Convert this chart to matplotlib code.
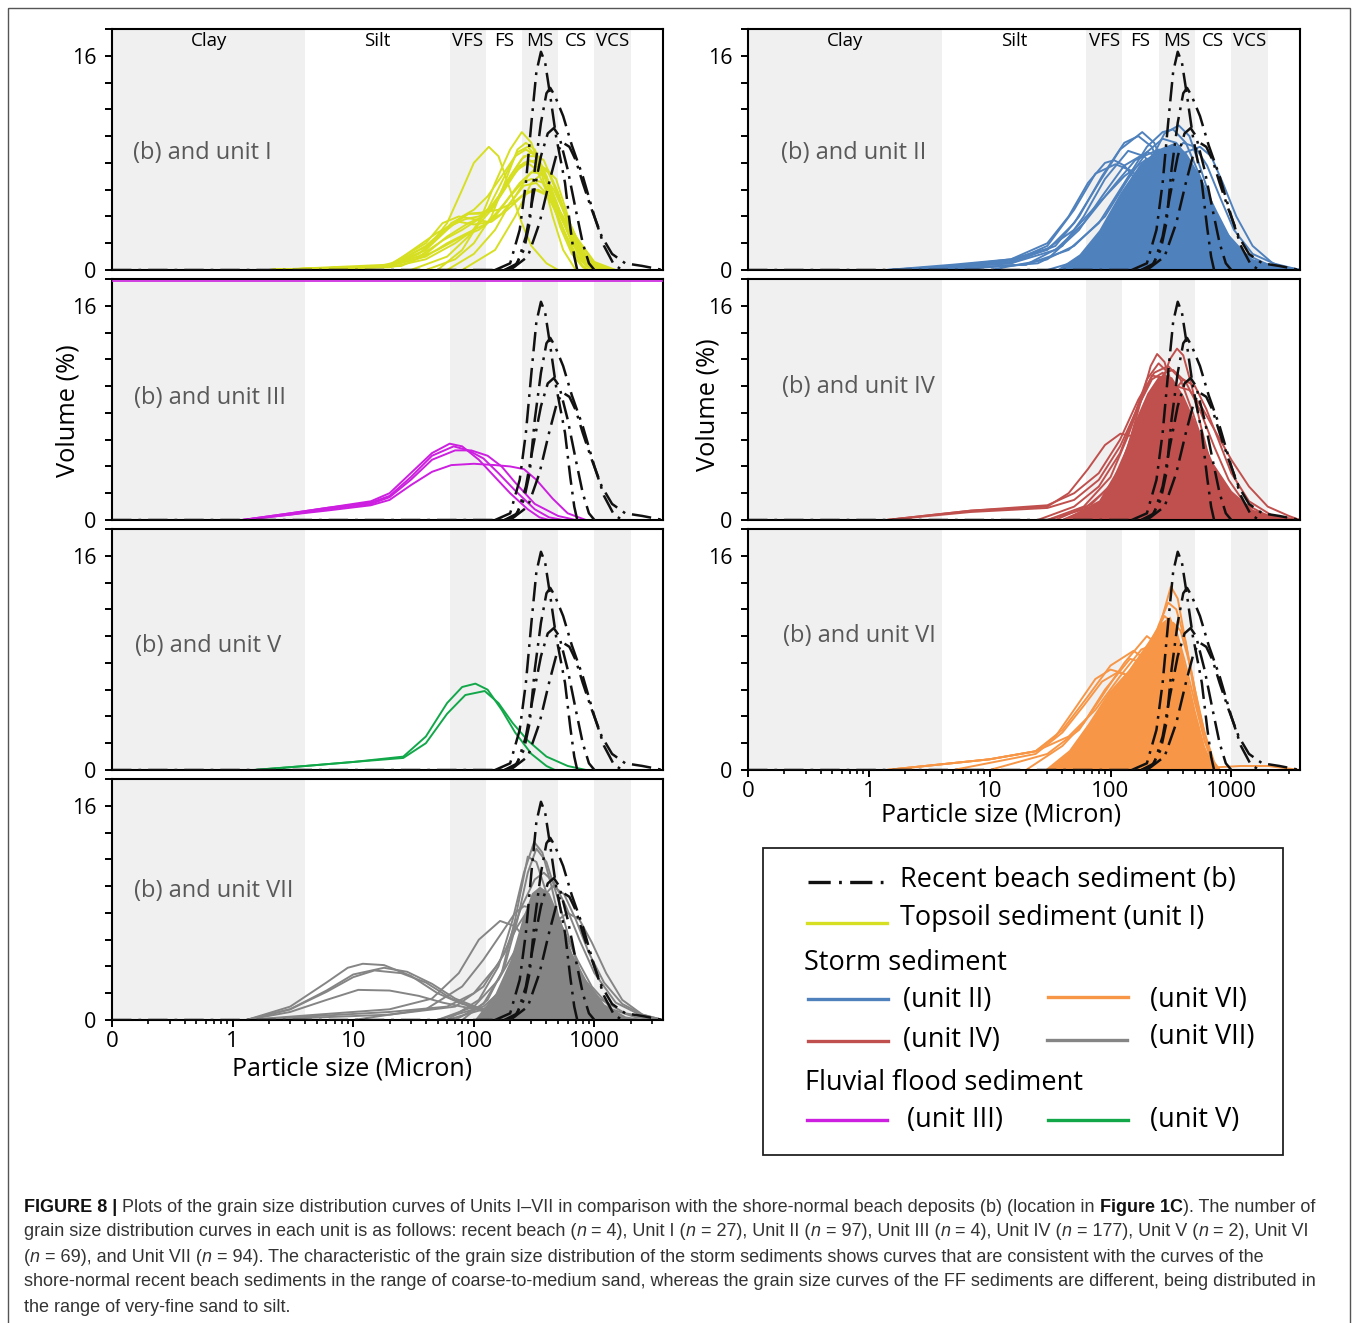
import re
import numpy as np
import matplotlib
matplotlib.use("Agg")
import matplotlib.pyplot as plt
from matplotlib import font_manager
from matplotlib.patches import Rectangle
from matplotlib.ticker import FixedLocator, FixedFormatter, MultipleLocator, LogLocator, NullFormatter

W, H = 1358, 1323

# ---- grain size classes (micron) ----
BAND_NAMES = ['Clay', 'Silt', 'VFS', 'FS', 'MS', 'CS', 'VCS']
BAND_EDGES = [0.1, 4, 63, 125, 250, 500, 1000, 2000]
BAND_SHADED = [True, False, True, False, True, False, True]

X_TICKS = [0.1, 1, 10, 100, 1000]
X_TICK_LABELS = ['0', '1', '10', '100', '1000']

# ---- recent beach sediment (b), 4 curves: (size, volume %) ----
BEACH = [
    [(150, 0), (200, 0.5), (240, 3.0), (270, 6.5), (300, 11), (330, 14.8), (360, 16.3), (390, 15.5),
     (430, 13), (480, 10), (530, 8), (570, 6.5), (630, 3.2), (680, 1), (720, 0)],
    [(180, 0), (220, 0.3), (260, 1.5), (290, 3.5), (320, 7.5), (360, 11), (400, 13.2), (430, 13.6),
     (470, 13), (550, 11.5), (650, 9.3), (800, 7), (1000, 4), (1200, 1.8), (1450, 0.4), (1700, 0)],
    [(180, 0), (230, 0.5), (270, 2.5), (310, 5.5), (360, 8.5), (410, 10.2), (460, 10.6), (510, 10),
     (600, 7.5), (700, 4.5), (800, 2), (900, 0.5), (1000, 0)],
    [(0.1, 0), (200, 0), (280, 1), (350, 3.5), (420, 6.5), (490, 8.8), (550, 9.5), (620, 9.2), (700, 8.2),
     (800, 6.5), (950, 4.5), (1150, 2.5), (1400, 1.2), (1800, 0.5), (2500, 0.3), (3700, 0)],
]

# ---- unit I (topsoil) ----
UNIT_I = [
    [(2, 0), (20, 0.3), (40, 1.5), (60, 3.5), (80, 6), (100, 8), (133, 9.2), (160, 8.5), (200, 6), (250, 3.5),
     (300, 1.8), (400, 0.5), (500, 0)],
    [(50, 0), (80, 1.5), (110, 3.5), (150, 6.5), (200, 9), (250, 10.3), (300, 9.5), (370, 7), (450, 4),
     (550, 1.5), (700, 0)],
    [(2, 0), (20, 0.3), (35, 1.2), (50, 2.5), (70, 3.5), (90, 4.2), (110, 4.2), (140, 4.5), (180, 6), (230, 7.5),
     (280, 8), (330, 7.5), (420, 5.5), (550, 3), (700, 1.2), (900, 0.3), (1200, 0)],
    [(2, 0), (20, 0.3), (40, 1.2), (60, 2.5), (90, 3.5), (120, 4), (160, 5.5), (200, 7), (260, 8.5), (320, 8.5),
     (400, 7), (500, 4.5), (650, 2), (850, 0.5), (1100, 0)],
    [(2, 0), (20, 0.2), (40, 0.8), (70, 2), (100, 3), (140, 4.5), (200, 7), (250, 8.3), (300, 8.8), (380, 8.2),
     (480, 6), (600, 3.5), (800, 1.2), (1100, 0.2), (1500, 0)],
    [(2, 0), (20, 0.3), (40, 1.5), (60, 3), (80, 4), (100, 4.5), (130, 5.5), (170, 7), (220, 8.5), (270, 9),
     (330, 8.5), (420, 6.5), (550, 3.8), (750, 1.3), (1000, 0.3), (1400, 0)],
    [(3, 0), (25, 0.3), (50, 1.5), (80, 2.5), (110, 3), (150, 4), (200, 5.5), (250, 6.5), (300, 6.8), (380, 6.5),
     (480, 5), (600, 3), (800, 1), (1100, 0)],
    [(40, 0), (70, 0.8), (100, 2), (140, 4), (180, 6.5), (230, 9), (270, 9.5), (320, 9), (400, 7), (500, 4),
     (650, 1.5), (850, 0.3), (1000, 0)],
    [(2, 0), (20, 0.3), (45, 2), (65, 3.5), (90, 4.2), (120, 4.3), (160, 4.5), (210, 5), (270, 5.8), (340, 6),
     (430, 5.5), (550, 4), (700, 2.2), (900, 0.8), (1300, 0)],
    [(2, 0), (15, 0.2), (35, 1), (55, 2.2), (80, 3), (110, 3.8), (150, 5), (200, 6.8), (260, 8), (330, 8.2),
     (420, 7.2), (530, 5), (700, 2.5), (1000, 0.6), (1500, 0)],
    [(80, 0), (150, 1.5), (220, 4), (300, 6.5), (400, 7.5), (480, 6.8), (580, 4.5), (700, 2), (850, 0.4), (1000, 0)],
    [(2, 0), (20, 0.3), (40, 1.8), (60, 3.2), (85, 3.8), (110, 4), (150, 5), (190, 6.5), (240, 7.8), (290, 8.2),
     (350, 7.8), (440, 6), (560, 3.5), (720, 1.3), (950, 0.3), (1300, 0)],
    [(30, 0), (60, 1), (90, 2.5), (130, 4.5), (180, 7), (230, 8.8), (280, 9.2), (340, 8.3), (420, 6), (520, 3.2),
     (650, 1.2), (800, 0.2), (900, 0)],
    [(2, 0), (20, 0.3), (40, 1), (60, 2), (90, 2.8), (130, 3.5), (180, 5), (240, 6.5), (300, 7.3), (370, 7.2),
     (460, 6), (580, 4), (750, 2), (1000, 0.5), (1400, 0)],
    [(2, 0), (20, 0.4), (40, 2), (55, 3.5), (75, 4), (100, 3.8), (130, 3.6), (170, 4.2), (220, 5.5), (280, 7),
     (340, 7.8), (410, 7.5), (500, 5.8), (620, 3.3), (800, 1.2), (1100, 0)],
    [(60, 0), (100, 1.2), (150, 3), (200, 5), (260, 6.3), (330, 6.5), (410, 5.6), (520, 3.6), (650, 1.5),
     (800, 0.3), (900, 0)],
    [(2, 0), (20, 0.3), (50, 2.8), (75, 3.6), (100, 3.4), (140, 3.6), (190, 4.5), (250, 5.5), (320, 6),
     (400, 5.6), (500, 4.3), (640, 2.4), (820, 0.8), (1100, 0)],
]

# ---- unit II (storm) ----
UNIT_II = [
    [(1.4, 0), (5, 0.3), (15, 0.7), (30, 1.5), (50, 3.5), (80, 6.5), (120, 9), (183, 10.3), (230, 9.5), (300, 7),
     (400, 4), (550, 1.8), (800, 0.5), (1200, 0)],
    [(2, 0), (15, 0.5), (35, 1.8), (55, 4), (85, 7), (130, 9.5), (170, 10), (220, 9.2), (290, 6.5), (400, 3.5),
     (600, 1.2), (1000, 0)],
    [(1.4, 0), (5, 0.3), (15, 0.8), (30, 2), (45, 4), (65, 6.5), (90, 8), (107, 8.2), (130, 7.8), (180, 6.2),
     (250, 4), (380, 1.8), (600, 0.5), (1000, 0)],
    [(2, 0), (15, 0.6), (30, 1.8), (50, 4.5), (75, 7.2), (110, 7.9), (150, 7.4), (200, 6.2), (280, 4), (420, 1.8),
     (700, 0.4), (1100, 0)],
    [(30, 0), (60, 0.8), (100, 2.5), (150, 5), (210, 8), (280, 10.2), (367, 10.8), (450, 10), (560, 7.5), (750, 4),
     (1000, 1.5), (1500, 0.3), (2000, 0)],
    [(3, 0), (20, 0.4), (45, 1.5), (80, 3.5), (130, 6.5), (200, 9.2), (270, 10.3), (330, 10.5), (420, 9.5),
     (550, 7), (750, 3.8), (1100, 1.2), (1800, 0.2), (2500, 0)],
    [(40, 0), (80, 0.8), (130, 2.5), (200, 5), (300, 7.5), (420, 8.8), (550, 9.2), (680, 8.5), (850, 6.5),
     (1100, 4), (1500, 1.8), (2200, 0.5), (3700, 0)],
    [(5, 0), (25, 0.5), (50, 1.8), (90, 4), (140, 6.8), (200, 8.8), (270, 9.8), (350, 9.5), (450, 8.2), (600, 5.8),
     (850, 3), (1300, 1), (2000, 0.2), (3000, 0)],
    [(2, 0), (15, 0.5), (35, 1.5), (60, 3.5), (100, 6), (160, 8.2), (250, 9), (350, 8.6), (480, 7.2), (650, 5),
     (900, 2.8), (1300, 1.2), (2000, 0.4), (3700, 0)],
    [(10, 0), (30, 0.8), (55, 3), (85, 5.5), (130, 7.8), (200, 8.8), (280, 8.3), (380, 6.5), (520, 4.2), (750, 2),
     (1100, 0.6), (1600, 0)],
    [(60, 0), (110, 1.2), (170, 3.5), (230, 6), (300, 8.3), (400, 9.5), (500, 9.2), (630, 7.8), (800, 5.5),
     (1050, 3), (1500, 1.2), (2500, 0.3), (3700, 0)],
    [(3, 0), (20, 0.4), (40, 1.8), (60, 4), (90, 6.8), (140, 8.9), (190, 8.5), (260, 7), (360, 4.8), (520, 2.5),
     (800, 0.8), (1200, 0)],
    [(1.4, 0), (5, 0.4), (15, 0.8), (30, 1.6), (50, 3), (80, 5), (130, 7), (200, 8.3), (300, 8.5), (420, 7.5),
     (600, 5.2), (900, 2.5), (1400, 0.8), (2500, 0.2), (3700, 0)],
]
UNIT_II_CORE = [(35, 0), (55, 1.2), (80, 3), (120, 5.8), (170, 7.8), (240, 9), (330, 9.5), (420, 8.8),
                (550, 7), (750, 4.5), (1000, 2.3), (1500, 0.8), (2500, 0.2), (3700, 0)]

# ---- unit III (fluvial flood) ----
UNIT_III = [
    [(1.2, 0), (3, 0.5), (6, 0.9), (14, 1.4), (20, 2), (30, 3.5), (45, 5), (63, 5.7), (80, 5.5), (110, 4.5),
     (150, 3.2), (200, 2), (280, 0.8), (350, 0.2), (420, 0)],
    [(1.2, 0), (3, 0.5), (6, 0.9), (14, 1.3), (20, 1.8), (30, 3.2), (45, 4.8), (68, 5.5), (90, 5.2), (120, 4.6),
     (160, 3.5), (220, 2.2), (320, 0.8), (420, 0.2), (550, 0)],
    [(1.2, 0), (3, 0.4), (6, 0.8), (14, 1.2), (20, 1.7), (30, 3.0), (45, 4.5), (70, 5.2), (95, 5.2), (130, 4.8),
     (170, 4.0), (220, 2.8), (320, 1.2), (500, 0.3), (700, 0)],
    [(1.2, 0), (3, 0.4), (6, 0.7), (14, 1.1), (20, 1.5), (30, 2.6), (45, 3.6), (65, 4.1), (100, 4.2), (150, 4.1),
     (200, 4.0), (260, 3.8), (330, 3.0), (450, 1.6), (600, 0.5), (850, 0)],
]

# ---- unit IV (storm) ----
UNIT_IV = [
    [(30, 0), (60, 0.8), (100, 2.5), (140, 5.5), (180, 9), (215, 11.5), (243, 12.4), (280, 11.8), (330, 9.5),
     (400, 6), (480, 3), (580, 1), (700, 0)],
    [(60, 0), (110, 1), (160, 3.5), (210, 7), (260, 10), (310, 12), (355, 12.8), (400, 12.3), (470, 10), (560, 7),
     (680, 4), (850, 1.5), (1100, 0.3), (1400, 0)],
    [(1.4, 0), (7, 0.7), (30, 1.0), (45, 2), (65, 3.8), (90, 5.6), (121, 6.45), (160, 6.2), (220, 5.2), (300, 3.6),
     (420, 1.8), (600, 0.6), (900, 0)],
    [(1.4, 0), (7, 0.7), (30, 1.1), (50, 2), (80, 3.5), (120, 6), (170, 9), (230, 11), (300, 11.5), (380, 10.5),
     (480, 8), (620, 5), (800, 2.5), (1100, 0.8), (1600, 0)],
    [(35, 0), (70, 1.2), (110, 3), (160, 6), (220, 9.5), (280, 11), (330, 11.2), (420, 10.3), (550, 8.2), (720, 5.5),
     (950, 3), (1300, 1.2), (2000, 0.3), (3700, 0)],
    [(1.4, 0), (7, 0.6), (30, 0.9), (50, 1.5), (80, 3), (120, 5.5), (170, 8.5), (220, 10.5), (270, 11), (330, 10.2),
     (420, 7.5), (550, 4.3), (750, 1.8), (1100, 0.4), (1600, 0)],
    [(70, 0), (120, 1), (180, 3.5), (240, 6.5), (310, 9.2), (400, 10.5), (500, 10), (620, 8.3), (780, 6),
     (1000, 3.5), (1400, 1.4), (2200, 0.3), (3700, 0)],
    [(25, 0), (50, 1), (80, 2.5), (120, 5), (160, 8), (200, 10.5), (250, 11.7), (300, 11), (370, 8.5), (460, 5.5),
     (570, 2.8), (720, 0.9), (950, 0)],
    [(40, 0), (80, 1.2), (130, 3.2), (190, 6), (260, 8.5), (350, 10), (450, 9.7), (580, 8.3), (750, 6.5),
     (1000, 4.5), (1400, 2.5), (2000, 1), (3000, 0.3), (3700, 0)],
    [(30, 0), (60, 1), (100, 3.2), (140, 6.3), (180, 9), (220, 10.8), (270, 10.6), (340, 8.5), (430, 5.5),
     (540, 3), (680, 1.2), (900, 0)],
]
UNIT_IV_CORE = [(40, 0), (80, 1.5), (120, 4.2), (160, 7.5), (200, 9.5), (250, 10.8), (320, 10.7), (400, 9.3),
                (520, 7), (700, 4.3), (1000, 2.2), (1500, 0.8), (2500, 0.2), (3700, 0)]

# ---- unit V (fluvial flood) ----
UNIT_V = [
    [(0.1, 0), (1.5, 0), (4, 0.3), (10, 0.6), (26, 1.0), (40, 2.5), (60, 5.0), (80, 6.2), (103, 6.45), (130, 6.0),
     (170, 4.5), (220, 2.8), (300, 1.2), (400, 0.3), (470, 0), (3700, 0)],
    [(0.1, 0), (1.5, 0), (4, 0.3), (10, 0.6), (26, 0.9), (40, 2.0), (60, 4.2), (85, 5.6), (123, 5.9), (160, 5.0),
     (210, 3.5), (280, 2.2), (400, 1.0), (600, 0.3), (850, 0), (3700, 0)],
]

# ---- unit VI (storm) ----
UNIT_VI = [
    [(60, 0), (110, 1.2), (160, 3.5), (210, 7), (260, 11), (316, 13.7), (360, 12.8), (420, 9.5), (500, 5.5),
     (600, 2.2), (700, 0.5), (800, 0)],
    [(1.4, 0), (10, 0.8), (24, 1.4), (40, 3), (65, 5.5), (100, 7.8), (155, 8.9), (200, 8.2), (260, 6), (340, 3.5),
     (450, 1.2), (600, 0.2), (700, 0)],
    [(1.4, 0), (10, 0.8), (24, 1.4), (35, 2.5), (50, 4.5), (75, 6.8), (100, 7.5), (130, 7.2), (180, 5.8),
     (250, 3.8), (350, 1.8), (500, 0.4), (650, 0)],
    [(5, 0), (24, 1.2), (40, 2.8), (60, 4.8), (85, 6.6), (115, 7.3), (150, 7), (200, 5.8), (280, 3.8), (400, 1.5),
     (550, 0.3), (700, 0)],
    [(50, 0), (100, 1.5), (150, 4), (200, 7.5), (250, 10.8), (300, 12.5), (350, 12), (420, 9.5), (500, 6),
     (600, 2.8), (720, 0.6), (800, 0)],
    [(30, 0), (70, 1.5), (110, 3.5), (160, 6.5), (210, 9.5), (280, 11.5), (340, 10.8), (410, 8.2), (500, 5),
     (600, 2.2), (700, 0.6), (800, 0)],
    [(10, 0), (30, 1.2), (55, 3), (85, 5.5), (130, 8), (200, 10), (260, 9.2), (330, 6.5), (420, 3.5), (520, 1.2),
     (650, 0)],
    [(1.4, 0), (10, 0.8), (24, 1.4), (45, 2.5), (75, 4.5), (120, 7), (180, 9), (250, 9.5), (320, 8.5), (400, 6),
     (500, 3.3), (620, 1.2), (750, 0.2), (1200, 0.3), (2000, 0.3), (3700, 0)],
    [(70, 0), (120, 1.5), (170, 4), (220, 7), (280, 10), (330, 11), (380, 10.4), (450, 8), (540, 4.5), (650, 1.5),
     (760, 0)],
    [(20, 0), (40, 1.8), (60, 3.5), (90, 6), (145, 8.3), (190, 8), (250, 6.6), (320, 4.5), (420, 2.2), (550, 0.6),
     (700, 0)],
]
UNIT_VI_CORE = [(28, 0), (45, 1.5), (65, 3.5), (95, 5.8), (140, 7.5), (200, 9.5), (260, 11), (310, 11.5),
                (360, 10), (420, 7.5), (500, 4.5), (600, 1.8), (700, 0.4), (780, 0)]

# ---- unit VII (storm) ----
UNIT_VII = [
    [(1.3, 0), (3, 1), (6, 2.8), (9, 3.9), (12, 4.2), (18, 4.1), (30, 3.3), (50, 2.0), (80, 1.2), (120, 0.8),
     (200, 0.3), (280, 0)],
    [(1.3, 0), (3, 0.8), (6, 2.2), (10, 3.4), (18, 3.9), (28, 3.6), (45, 2.7), (70, 1.6), (110, 0.9), (180, 0.4),
     (280, 0)],
    [(1.3, 0), (3, 0.8), (6, 2.1), (10, 3.2), (15, 3.7), (25, 3.5), (40, 2.8), (65, 1.6), (100, 0.9), (160, 0.3),
     (250, 0)],
    [(1.3, 0), (3, 0.6), (6, 1.5), (11, 2.25), (20, 2.2), (35, 1.8), (55, 1.3), (90, 0.9), (150, 0.5), (250, 0)],
    [(60, 0), (110, 1.5), (160, 4), (210, 7.5), (260, 11), (316, 13.3), (370, 12.5), (440, 10), (530, 6.8),
     (650, 3.8), (800, 1.5), (1000, 0.3), (1200, 0)],
    [(80, 0), (130, 1.5), (180, 4), (230, 7.5), (280, 11), (330, 12.8), (400, 11.8), (500, 9), (620, 6), (800, 3),
     (1100, 1), (1600, 0)],
    [(1.3, 0), (5, 0.4), (20, 0.8), (45, 1.6), (75, 3.5), (110, 6), (165, 7.4), (220, 7), (300, 5.5), (400, 3.8),
     (550, 2), (800, 0.8), (1200, 0)],
    [(1.5, 0), (20, 0.4), (70, 1), (120, 2.5), (180, 5), (250, 8.5), (320, 10.5), (380, 11), (460, 10.3), (580, 8.5),
     (750, 6), (1000, 3.5), (1500, 1.3), (2500, 0.3), (3700, 0)],
    [(50, 0), (100, 1), (160, 3), (230, 5.5), (320, 8.5), (450, 10), (560, 9.4), (700, 7.5), (900, 5), (1200, 2.8),
     (1700, 1.2), (2500, 0.4), (3700, 0)],
    [(10, 0), (40, 0.8), (80, 2.5), (120, 4.5), (170, 6.5), (220, 8), (260, 8.5), (330, 8.3), (420, 7.2), (550, 5.5),
     (750, 3.5), (1100, 1.6), (1800, 0.5), (3700, 0)],
    [(60, 0), (120, 0.8), (180, 2), (240, 3.1), (300, 3.5), (380, 3.3), (500, 2.5), (700, 1.5), (1000, 0.6),
     (1500, 0)],
    [(70, 0), (120, 1.2), (170, 3.5), (220, 7.5), (280, 12.2), (330, 11.8), (400, 9.5), (480, 6.5), (580, 3.5),
     (720, 1.2), (900, 0.2), (1100, 0)],
    [(50, 0), (120, 1), (200, 2.8), (300, 5), (420, 7), (600, 8), (750, 7.5), (950, 5.8), (1250, 3.5), (1700, 1.5),
     (2500, 0.4), (3700, 0)],
    [(1.3, 0), (5, 0.3), (20, 0.6), (60, 1), (100, 2), (160, 4.2), (230, 7), (300, 8.6), (350, 9), (430, 8.5),
     (550, 6.8), (720, 4.5), (950, 2.5), (1400, 0.8), (2200, 0.2), (3700, 0)],
]
UNIT_VII_CORE = [(100, 0), (150, 2), (200, 4.5), (250, 7.5), (300, 9.5), (350, 10), (420, 9.5), (520, 7.5),
                 (650, 5), (850, 3), (1200, 1.2), (1800, 0.3), (3000, 0)]

COL_I = '#d7df23'
COL_II = '#4f81bd'
COL_III = '#cc1fe0'
COL_IV = '#c0504d'
COL_V = '#12a84a'
COL_VI = '#f79646'
COL_VII = '#858585'

CAPTION_LINES = [
    "**FIGURE 8 |** Plots of the grain size distribution curves of Units I\u2013VII in comparison with the "
    "shore-normal beach deposits (b) (location in **Figure 1C**). The number of",
    "grain size distribution curves in each unit is as follows: recent beach (_n_ = 4), Unit I (_n_ = 27), "
    "Unit II (_n_ = 97), Unit III (_n_ = 4), Unit IV (_n_ = 177), Unit V (_n_ = 2), Unit VI",
    "(_n_ = 69), and Unit VII (_n_ = 94). The characteristic of the grain size distribution of the storm "
    "sediments shows curves that are consistent with the curves of the",
    "shore-normal recent beach sediments in the range of coarse-to-medium sand, whereas the grain size "
    "curves of the FF sediments are different, being distributed in",
    "the range of very-fine sand to silt.",
]

plt.rcParams['font.family'] = ['Open Sans', 'DejaVu Sans']
plt.rcParams['lines.scale_dashes'] = False
try:
    font_manager.findfont('Liberation Sans Narrow', fallback_to_default=False)
    CAP_FONT = 'Liberation Sans Narrow'
except ValueError:
    CAP_FONT = 'Liberation Sans'

BEACH_DASH = (14, 5, 2, 5)

fig = plt.figure(figsize=(W / 100, H / 100), dpi=100)

# pixel overlay for frame, legend and caption
over = fig.add_axes([0, 0, 1, 1])
over.set_xlim(0, W)
over.set_ylim(H, 0)
over.axis('off')
over.add_patch(Rectangle((8, 8), 1342, 1340, fill=False, ec='#555555', lw=1.0))


def px_axes(x0, y0, x1, y1):
    return fig.add_axes([x0 / W, 1 - y1 / H, (x1 - x0) / W, (y1 - y0) / H])


def draw_panel(ax, curves, color, core, label, lab_pos, top, bottom):
    ax.set_xscale('log')
    ax.set_xlim(0.1, 3700)
    ax.set_ylim(0, 18)
    for i in range(len(BAND_NAMES)):
        if BAND_SHADED[i]:
            ax.axvspan(BAND_EDGES[i], BAND_EDGES[i + 1], color='#f0f0f0', lw=0, zorder=0)
    if core is not None:
        cx, cy = zip(*core)
        ax.fill_between(cx, cy, 0, color=color, lw=0, zorder=1.5)
    for c in curves:
        x, y = zip(*c)
        ax.plot(x, y, color=color, lw=1.4, zorder=2)
    for c in BEACH:
        x, y = zip(*c)
        ln, = ax.plot(x, y, color='#111111', lw=1.8, zorder=3)
        ln.set_dashes(BEACH_DASH)
    ax.text(lab_pos[0], lab_pos[1], label, transform=ax.transAxes, fontsize=17,
            color='#595959', va='center', ha='left')
    if top:
        tr = ax.get_xaxis_transform()
        for i, name in enumerate(BAND_NAMES):
            xc = np.sqrt(BAND_EDGES[i] * BAND_EDGES[i + 1])
            ax.text(xc, 0.95, name, transform=tr, ha='center', va='center', fontsize=13.5)
    for s in ax.spines.values():
        s.set_linewidth(1.5)
    ax.set_yticks([0, 16])
    ax.set_yticklabels(['0', '16'])
    ax.yaxis.set_minor_locator(MultipleLocator(2))
    ax.tick_params(axis='y', which='both', direction='out', length=5, width=1.4, labelsize=15.5, pad=6)
    ax.xaxis.set_major_locator(FixedLocator(X_TICKS))
    ax.xaxis.set_minor_locator(LogLocator(base=10, subs=range(2, 10)))
    ax.xaxis.set_minor_formatter(NullFormatter())
    if bottom:
        ax.xaxis.set_major_formatter(FixedFormatter(X_TICK_LABELS))
        ax.tick_params(axis='x', which='major', direction='out', length=5, width=1.4, labelsize=16, pad=3)
        ax.tick_params(axis='x', which='minor', direction='out', length=3, width=1.2)
    else:
        ax.tick_params(axis='x', which='both', length=0, labelbottom=False)


left_rows = [(29, 270), (279, 520), (529, 770), (779, 1020)]
left_units = [
    (UNIT_I, COL_I, None, '(b) and unit I', (0.038, 0.485)),
    (UNIT_III, COL_III, None, '(b) and unit III', (0.040, 0.505)),
    (UNIT_V, COL_V, None, '(b) and unit V', (0.042, 0.515)),
    (UNIT_VII, COL_VII, UNIT_VII_CORE, '(b) and unit VII', (0.040, 0.535)),
]
right_units = [
    (UNIT_II, COL_II, UNIT_II_CORE, '(b) and unit II', (0.060, 0.485)),
    (UNIT_IV, COL_IV, UNIT_IV_CORE, '(b) and unit IV', (0.062, 0.55)),
    (UNIT_VI, COL_VI, UNIT_VI_CORE, '(b) and unit VI', (0.064, 0.555)),
]

for i, (cur, col, core, lab, pos) in enumerate(left_units):
    y0, y1 = left_rows[i]
    ax = px_axes(112, y0, 663, y1)
    draw_panel(ax, cur, col, core, lab, pos, i == 0, i == 3)
    if i == 1:
        ax.plot([0, 1], [0.992, 0.992], transform=ax.transAxes, color=COL_III, lw=1.2, zorder=4)

for i, (cur, col, core, lab, pos) in enumerate(right_units):
    y0, y1 = left_rows[i]
    ax = px_axes(748, y0, 1300, y1)
    draw_panel(ax, cur, col, core, lab, pos, i == 0, i == 2)

over.text(68, 411, 'Volume (%)', rotation=90, ha='center', va='center', fontsize=18.3)
over.text(708, 405, 'Volume (%)', rotation=90, ha='center', va='center', fontsize=18.3)
over.text(352, 1069, 'Particle size (Micron)', ha='center', va='center', fontsize=18)
over.text(1001, 815, 'Particle size (Micron)', ha='center', va='center', fontsize=18)

# ---- legend ----
over.add_patch(Rectangle((763, 848), 520, 307, fill=False, ec='#222222', lw=1.3))
LEG_FS = 19.5
legend_rows = [
    ('#111111', 808, 886, 882, 'Recent beach sediment (b)', 900, 880, True),
    (COL_I, 807, 887, 923, 'Topsoil sediment (unit I)', 900, 918, False),
    (COL_II, 808, 888, 999, '(unit II)', 903, 1000, False),
    (COL_VI, 1048, 1128, 997, '(unit VI)', 1150, 1000, False),
    (COL_IV, 808, 888, 1041, '(unit IV)', 903, 1040, False),
    (COL_VII, 1047, 1127, 1040, '(unit VII)', 1150, 1037, False),
    (COL_III, 807, 887, 1120, '(unit III)', 907, 1120, False),
    (COL_V, 1048, 1128, 1120, '(unit V)', 1150, 1120, False),
]
for col, lx0, lx1, ly, txt, tx, ty, dashed in legend_rows:
    ln, = over.plot([lx0, lx1], [ly, ly], color=col, lw=2.4)
    if dashed:
        ln.set_dashes((16, 6, 2, 6))
    over.text(tx, ty, txt, ha='left', va='center', fontsize=LEG_FS)
over.text(804, 963, 'Storm sediment', ha='left', va='center', fontsize=LEG_FS)
over.text(805, 1083, 'Fluvial flood sediment', ha='left', va='center', fontsize=LEG_FS)

# ---- caption ----
renderer = fig.canvas.get_renderer()


def split_caption(line):
    parts = [p for p in re.split(r'(\*\*.+?\*\*|_n_)', line) if p]
    out = []
    carry = ''
    for p in parts:
        if p.startswith('**'):
            txt, style = p[2:-2], 'bold'
        elif p == '_n_':
            txt, style = 'n', 'italic'
        else:
            txt, style = p, 'normal'
        txt = carry + txt
        stripped = txt.rstrip(' ')
        carry = txt[len(stripped):]
        out.append((stripped, style))
    return out


def draw_caption_line(line, x, y, fs, draw=True):
    arts = []
    for txt, style in split_caption(line):
        kw = dict(fontsize=fs, family=CAP_FONT, ha='left', va='center', color='#333333')
        if style == 'bold':
            kw['fontweight'] = 'bold'
            kw['color'] = '#111111'
        if style == 'italic':
            kw['fontstyle'] = 'italic'
        t = over.text(x, y, txt, **kw)
        x += t.get_window_extent(renderer).width
        arts.append(t)
    if not draw:
        for t in arts:
            t.remove()
    return x


base_fs = 12.0
end = draw_caption_line(CAPTION_LINES[0], 24, 1207, base_fs, draw=False)
cap_fs = base_fs * (1320 - 24) / (end - 24)
for k, line in enumerate(CAPTION_LINES):
    draw_caption_line(line, 24, 1207 + 25 * k, cap_fs)

fig.savefig('out.png', dpi=100)
